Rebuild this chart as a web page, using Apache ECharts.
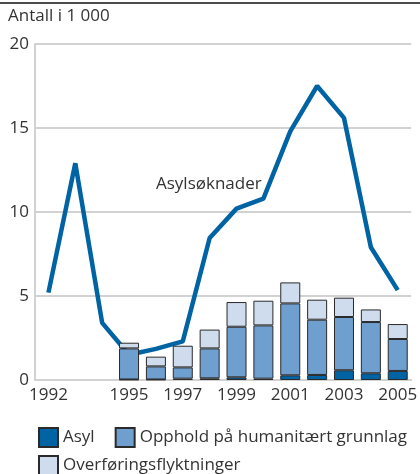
<!DOCTYPE html>
<html>
<head>
<meta charset="utf-8">
<script src="https://cdn.jsdelivr.net/npm/echarts@6/dist/echarts.min.js"></script>
<style>
  html, body { margin: 0; padding: 0; background: #fff; }
  #chart { width: 420px; height: 474px; }
</style>
</head>
<body>
<div id="chart"></div>
<script>
const years = ['1992', '1993', '1994', '1995', '1996', '1997', '1998', '1999',
  '2000', '2001', '2002', '2003', '2004', '2005'];
const shownYears = ['1992', '1995', '1997', '1999', '2001', '2003', '2005'];

// Asylsøknader, antall i 1 000
const applications = [5.2, 12.9, 3.4, 1.5, 1.85, 2.3, 8.45, 10.2, 10.8, 14.8, 17.5, 15.6, 7.9, 5.35];

// stacked bars from 1995
const asyl = [null, null, null, 0.03, 0.03, 0.08, 0.1, 0.16, 0.08, 0.28, 0.3, 0.58, 0.4, 0.54];
const humanitarian = [null, null, null, 1.85, 0.78, 0.67, 1.78, 3.01, 3.17, 4.28, 3.29, 3.17, 3.05, 1.9];
const resettled = [null, null, null, 0.34, 0.58, 1.29, 1.12, 1.47, 1.47, 1.25, 1.19, 1.15, 0.75, 0.89];

const font = 'Open Sans';
const textColor = '#333';
const gridColor = '#d2d2d2';

const chart = echarts.init(document.getElementById('chart'));

function barSeries(name, data, color) {
  return {
    name: name,
    type: 'bar',
    stack: 'total',
    data: data,
    barWidth: 20,
    z: 3,
    itemStyle: { color: color, borderColor: '#2a2a2a', borderWidth: 1 }
  };
}

const legendText = { fontSize: 17, color: textColor, fontFamily: font };

chart.setOption({
  animation: false,
  textStyle: { fontFamily: font },
  grid: { left: 35, right: 4, top: 44, bottom: 94 },
  graphic: [
    { type: 'line', shape: { x1: 0, y1: 3, x2: 420, y2: 3 }, style: { stroke: '#111', lineWidth: 1.5 } },
    { type: 'text', left: 8, top: 8, style: { text: 'Antall i 1 000', font: '17px "Open Sans"', fill: textColor } },
    { type: 'text', left: 156, top: 176, style: { text: 'Asylsøknader', font: '17px "Open Sans"', fill: textColor } }
  ],
  legend: [
    {
      data: ['Asyl', 'Opphold på humanitært grunnlag'],
      left: 38, top: 427, padding: 0,
      itemWidth: 19, itemHeight: 19, itemGap: 20,
      icon: 'rect',
      textStyle: legendText
    },
    {
      data: ['Overføringsflyktninger'],
      left: 38, top: 455, padding: 0,
      itemWidth: 19, itemHeight: 19,
      icon: 'rect',
      textStyle: legendText
    }
  ],
  xAxis: {
    type: 'category',
    data: years,
    axisLine: { lineStyle: { color: gridColor, width: 2 } },
    axisTick: { inside: true, alignWithLabel: true, length: 6, interval: 0, lineStyle: { color: gridColor, width: 2 } },
    axisLabel: {
      interval: 0,
      color: textColor, fontSize: 17, margin: 7,
      formatter: v => shownYears.includes(v) ? v : ''
    }
  },
  yAxis: {
    type: 'value',
    min: 0, max: 20, interval: 5,
    axisLine: { show: true, lineStyle: { color: gridColor, width: 2 } },
    axisTick: { show: false },
    axisLabel: { color: textColor, fontSize: 17, margin: 6 },
    splitLine: { lineStyle: { color: gridColor, width: 2 } }
  },
  series: [
    {
      name: 'Asylsøknader',
      type: 'line',
      data: applications,
      showSymbol: false,
      symbol: 'none',
      z: 2,
      lineStyle: { color: '#0063a3', width: 4.5 }
    },
    barSeries('Asyl', asyl, '#0063a3'),
    barSeries('Opphold på humanitært grunnlag', humanitarian, '#6f9fcf'),
    barSeries('Overføringsflyktninger', resettled, '#cfdced')
  ]
});
</script>
</body>
</html>
